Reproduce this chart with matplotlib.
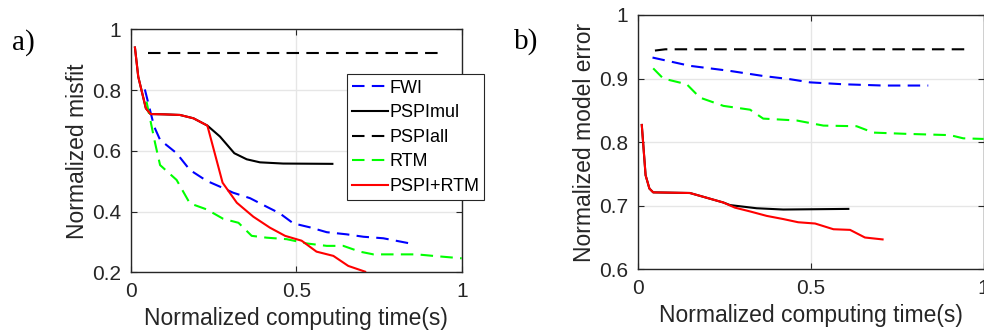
import matplotlib
matplotlib.use('Agg')
import matplotlib.pyplot as plt

plt.rcParams['font.family'] = ['Liberation Sans', 'DejaVu Sans']

# (a) normalized misfit
fwi_a_x = [0.042, 0.070, 0.088, 0.138, 0.178, 0.229, 0.269, 0.309, 0.360, 0.410, 0.450,
           0.491, 0.541, 0.592, 0.652, 0.703, 0.763, 0.839]
fwi_a_y = [0.802, 0.680, 0.636, 0.592, 0.537, 0.501, 0.482, 0.462, 0.444, 0.416, 0.394,
           0.361, 0.348, 0.332, 0.325, 0.317, 0.312, 0.296]
mul_a_x = [0.012, 0.022, 0.045, 0.059, 0.100, 0.148, 0.189, 0.231, 0.269, 0.3125, 0.350,
           0.390, 0.460, 0.609]
mul_a_y = [0.940, 0.844, 0.740, 0.721, 0.720, 0.718, 0.707, 0.683, 0.647, 0.592, 0.572,
           0.562, 0.558, 0.557]
all_a_x = [0.050, 0.948]
all_a_y = [0.922, 0.922]
rtm_a_x = [0.047, 0.073, 0.088, 0.138, 0.178, 0.229, 0.279, 0.325, 0.365, 0.410, 0.471,
           0.531, 0.592, 0.642, 0.692, 0.733, 0.864, 0.914, 1.000]
rtm_a_y = [0.762, 0.625, 0.553, 0.504, 0.427, 0.407, 0.376, 0.363, 0.320, 0.314, 0.309,
           0.295, 0.287, 0.287, 0.268, 0.259, 0.259, 0.254, 0.246]
mix_a_x = [0.012, 0.022, 0.045, 0.059, 0.100, 0.148, 0.189, 0.231, 0.277, 0.320, 0.370,
           0.420, 0.466, 0.516, 0.561, 0.612, 0.657, 0.708]
mix_a_y = [0.940, 0.844, 0.740, 0.721, 0.720, 0.718, 0.707, 0.683, 0.495, 0.429, 0.383,
           0.347, 0.320, 0.304, 0.268, 0.254, 0.221, 0.202]

# (b) normalized model error
fwi_b_x = [0.043, 0.151, 0.267, 0.363, 0.440, 0.498, 0.594, 0.710, 0.840]
fwi_b_y = [0.933, 0.920, 0.912, 0.904, 0.899, 0.894, 0.891, 0.889, 0.889]
mul_b_x = [0.012, 0.023, 0.034, 0.045, 0.151, 0.190, 0.248, 0.267, 0.344, 0.421, 0.609]
mul_b_y = [0.827, 0.748, 0.727, 0.721, 0.720, 0.714, 0.705, 0.701, 0.696, 0.694, 0.695]
all_b_x = [0.050, 0.080, 0.946]
all_b_y = [0.944, 0.946, 0.946]
rtm_b_x = [0.045, 0.074, 0.142, 0.180, 0.248, 0.325, 0.363, 0.460, 0.537, 0.633, 0.681,
           0.777, 0.903, 0.941, 1.000]
rtm_b_y = [0.916, 0.900, 0.891, 0.870, 0.857, 0.851, 0.837, 0.834, 0.826, 0.825, 0.815,
           0.813, 0.811, 0.806, 0.805]
mix_b_x = [0.012, 0.023, 0.034, 0.045, 0.151, 0.190, 0.248, 0.281, 0.325, 0.373, 0.421,
           0.464, 0.513, 0.566, 0.614, 0.657, 0.708]
mix_b_y = [0.827, 0.748, 0.727, 0.721, 0.720, 0.714, 0.705, 0.697, 0.691, 0.684, 0.679,
           0.674, 0.672, 0.663, 0.662, 0.650, 0.647]

labels = ['FWI', 'PSPImul', 'PSPIall', 'RTM', 'PSPI+RTM']
dash = (6, 3.5)


def draw(ax, fwi, mul, alls, rtm, mix):
    ax.plot(*fwi, color='blue', lw=1.5, dashes=dash, label=labels[0])
    ax.plot(*mul, color='black', lw=1.5, label=labels[1])
    ax.plot(*alls, color='black', lw=1.5, dashes=dash, label=labels[2])
    ax.plot(*rtm, color='#00ff00', lw=1.5, dashes=dash, label=labels[3])
    ax.plot(*mix, color='red', lw=1.5, label=labels[4])
    ax.grid(True, color='#e6e6e6', lw=1.0)
    ax.set_axisbelow(True)
    ax.set_xlim(0, 1)
    ax.set_xticks([0, 0.5, 1])
    ax.set_xticklabels(['0', '0.5', '1'])
    ax.tick_params(direction='in', labelsize=15, colors='#262626', length=4, pad=7,
                   top=True, right=True)
    for s in ax.spines.values():
        s.set_color('#262626')
        s.set_linewidth(1.0)
    ax.set_xlabel('Normalized computing time(s)', fontsize=16.5, color='#262626')


fig = plt.figure(figsize=(9.84, 3.36), dpi=100)

ax1 = fig.add_axes([0.1331, 0.1896, 0.3361, 0.7232])
draw(ax1, (fwi_a_x, fwi_a_y), (mul_a_x, mul_a_y), (all_a_x, all_a_y),
     (rtm_a_x, rtm_a_y), (mix_a_x, mix_a_y))
ax1.set_ylim(0.2, 1)
ax1.set_yticks([0.2, 0.4, 0.6, 0.8, 1])
ax1.set_yticklabels(['0.2', '0.4', '0.6', '0.8', '1'])
ax1.set_ylabel('Normalized misfit', fontsize=16.5, color='#262626', labelpad=2)
leg = ax1.legend(loc='upper left', bbox_to_anchor=(0.652, 0.815), fontsize=13,
                 handlelength=2.0, handletextpad=0.05, borderpad=0.3, labelspacing=0.42,
                 fancybox=False, framealpha=1, borderaxespad=0)
leg.get_frame().set_edgecolor('#262626')
leg.get_frame().set_linewidth(0.8)

ax2 = fig.add_axes([0.648, 0.1985, 0.3516, 0.757])
draw(ax2, (fwi_b_x, fwi_b_y), (mul_b_x, mul_b_y), (all_b_x, all_b_y),
     (rtm_b_x, rtm_b_y), (mix_b_x, mix_b_y))
ax2.set_ylim(0.6, 1)
ax2.set_yticks([0.6, 0.7, 0.8, 0.9, 1])
ax2.set_yticklabels(['0.6', '0.7', '0.8', '0.9', '1'])
ax2.set_ylabel('Normalized model error', fontsize=16.5, color='#262626', labelpad=2)

fig.text(0.012, 0.872, 'a)', family=['Liberation Serif'], fontsize=21, va='center')
fig.text(0.522, 0.877, 'b)', family=['Liberation Serif'], fontsize=21, va='center')

fig.savefig('out.png', dpi=100)
